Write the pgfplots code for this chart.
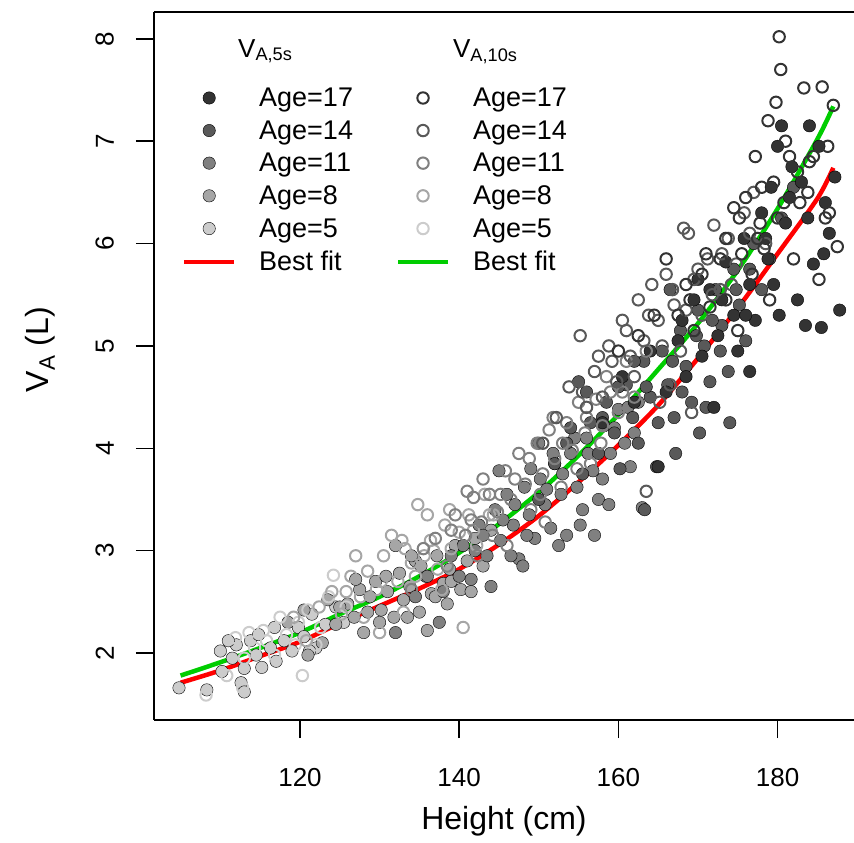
\documentclass[border=0pt]{standalone}
\usepackage{pgfplots}
\pgfplotsset{compat=1.18}
\usepackage{fontspec}
\setmainfont{Liberation Sans}
\definecolor{g17}{gray}{0.2}
\definecolor{g14}{gray}{0.35}
\definecolor{g11}{gray}{0.5}
\definecolor{g8}{gray}{0.65}
\definecolor{g5}{gray}{0.8}
\definecolor{fitgreen}{RGB}{0,205,0}
\pgfplotsset{
  fil/.style={only marks, mark=*, mark size=6.2pt, mark options={draw=none, fill=#1}},
  opn/.style={only marks, mark=o, mark size=5.7pt, mark options={draw=#1, line width=2pt}},
}
\begin{document}
\begin{tikzpicture}
\begin{axis}[
  scale only axis, width=700pt, height=708pt,
  xmin=101.66, xmax=189.6, ymin=1.346, ymax=8.262,
  axis lines*=left,
  axis line style={line width=1.5pt, black},
  tick style={line width=1.5pt, black},
  tick align=outside, major tick length=18pt,
  xtick={120,140,160,180}, ytick={2,3,4,5,6,7,8},
  /pgf/number format/assume math mode=true,
  tick label style={font=\fontsize{26}{30}\selectfont, inner sep=0pt},
  xticklabel style={anchor=north},
  xticklabel shift=30pt,
  yticklabel style={rotate=90, anchor=south},
  yticklabel shift=22pt,
  xlabel={Height (cm)},
  xlabel style={font=\fontsize{32}{36}\selectfont, at={(axis description cs:0.5,-0.122)}, anchor=north, inner sep=0pt},
  ylabel={V\textsubscript{A} (L)},
  ylabel style={font=\fontsize{32}{36}\selectfont, at={(axis description cs:-0.163,0.523)}, anchor=center, inner sep=0pt},
  legend columns=2,
  legend image code/.code={\draw[mark repeat=2,mark phase=2,#1] plot coordinates {(0pt,0pt) (25pt,0pt) (50pt,0pt)};},
  legend style={draw=none, fill=none, inner sep=0pt, at={(0.04,0.893)}, anchor=north west,
    font=\fontsize{27}{31}\selectfont, row sep=12.5pt,
    nodes={inner sep=0pt},
    /tikz/every odd column/.append style={column sep=23pt},
    /tikz/every even column/.append style={column sep=43pt}},
  legend cell align=left,
]
\coordinate (bl) at (rel axis cs:0,0);
\draw[line width=1.5pt] (rel axis cs:0,1) -- (rel axis cs:1,1);

% legend entries
\addlegendimage{fil=g17}\addlegendentry{Age=17}
\addlegendimage{opn=g17}\addlegendentry{Age=17}
\addlegendimage{fil=g14}\addlegendentry{Age=14}
\addlegendimage{opn=g14}\addlegendentry{Age=14}
\addlegendimage{fil=g11}\addlegendentry{Age=11}
\addlegendimage{opn=g11}\addlegendentry{Age=11}
\addlegendimage{fil=g8}\addlegendentry{Age=8}
\addlegendimage{opn=g8}\addlegendentry{Age=8}
\addlegendimage{fil=g5}\addlegendentry{Age=5}
\addlegendimage{opn=g5}\addlegendentry{Age=5}
\addlegendimage{red, line width=4pt}\addlegendentry{Best fit}
\addlegendimage{fitgreen, line width=4pt}\addlegendentry{Best fit}

% V_A,5s (filled)
\addplot[fil=g5, forget plot] table {
104.8 1.66
108.3 1.64
110.2 1.82
111.5 1.95
112.0 2.08
112.6 1.71
113.0 1.62
113.8 2.12
114.5 1.98
115.2 1.86
116.3 2.05
117.0 1.92
118.0 2.12
119.0 2.02
119.8 2.25
120.5 2.16
121.5 2.38
122.0 2.05
123.2 2.28
124.5 2.45
125.5 2.30
111.0 2.12
114.8 2.18
110.0 2.02
113.0 1.85
116.8 2.25
121.2 2.02
};
\addplot[fil=g8, forget plot] table {
118.5 2.30
120.5 2.42
121.0 1.98
122.8 2.10
123.5 2.52
124.5 2.28
126.0 2.48
126.8 2.35
127.5 2.62
128.0 2.20
128.8 2.55
129.5 2.70
130.2 2.42
131.0 2.60
131.8 2.35
132.5 2.78
133.0 2.52
133.8 2.65
134.5 2.90
135.0 2.40
135.8 2.75
136.5 2.58
137.2 2.95
138.0 2.68
138.8 2.82
139.5 3.05
140.2 2.62
141.0 2.90
142.0 3.12
143.0 2.85
144.0 3.20
127.0 2.72
132.0 3.05
136.0 2.22
138.5 2.48
125.0 2.45
128.5 2.40
130.8 2.75
133.5 2.35
135.2 2.85
137.0 2.55
139.0 2.70
141.5 2.60
130.0 2.30
134.0 2.95
};
\addplot[fil=g11, forget plot] table {
132.0 2.20
134.5 2.55
136.0 2.75
137.5 2.30
139.0 2.95
140.5 3.05
141.5 2.72
142.5 3.25
143.5 2.95
144.5 3.40
145.2 3.10
146.0 3.55
146.8 3.25
147.5 2.92
148.2 3.62
148.8 3.35
149.5 3.12
150.2 3.70
150.8 3.45
151.5 3.22
152.0 3.85
152.8 3.55
153.5 3.15
154.0 3.95
154.8 3.62
155.5 3.40
156.0 4.10
156.8 3.78
157.5 3.50
158.2 4.22
159.0 3.95
160.0 4.38
160.8 4.05
161.5 3.82
162.5 4.45
163.0 3.42
145.0 3.78
150.0 4.05
152.5 3.05
157.0 3.15
148.0 2.85
144.0 2.65
138.0 2.60
140.0 2.75
142.0 3.00
143.0 3.15
145.5 3.30
147.0 3.45
148.5 3.15
149.0 3.80
151.0 3.60
153.0 3.75
154.5 4.10
156.2 3.95
158.0 3.70
159.5 4.20
161.2 4.40
162.0 4.15
146.5 2.95
151.8 3.95
155.2 3.25
158.8 3.45
};
\addplot[fil=g14, forget plot] table {
150.0 3.50
152.0 3.85
153.5 4.05
155.0 4.65
155.5 3.75
156.5 4.25
157.5 3.95
158.5 4.45
159.5 4.15
160.2 3.80
161.0 4.62
161.8 4.30
162.5 4.05
163.2 4.85
164.0 4.50
164.8 3.82
165.5 4.95
166.2 4.62
167.0 4.30
167.8 5.15
168.5 4.80
169.2 4.45
170.0 5.35
170.8 5.00
171.5 4.65
172.2 5.55
173.0 5.20
173.8 4.75
174.5 5.75
175.2 5.40
176.0 5.05
177.0 6.00
178.0 5.55
179.0 5.85
180.5 6.25
182.0 6.55
163.3 3.40
166.5 5.55
171.0 4.40
174.0 4.25
154.0 4.20
156.0 4.55
158.0 4.30
160.0 4.60
162.0 4.85
163.5 4.60
165.0 4.25
166.8 4.85
168.0 4.55
169.8 5.10
171.8 5.25
172.8 4.95
174.8 5.55
176.5 5.75
167.2 3.95
170.2 4.15
};
\addplot[fil=g17, forget plot] table {
158.0 4.25
160.5 4.70
162.0 4.45
164.0 4.95
165.0 3.82
166.0 4.55
167.5 5.05
168.5 4.70
169.5 5.45
170.5 4.90
171.5 5.55
172.5 5.10
173.5 5.82
174.5 5.30
175.0 4.95
175.8 6.05
176.5 5.60
177.2 5.25
178.0 6.30
178.8 5.85
179.2 6.55
180.0 6.95
180.5 7.15
180.2 5.30
181.0 6.20
181.8 6.75
182.5 5.45
183.0 6.60
183.5 5.20
184.0 7.15
184.5 5.80
185.2 6.95
185.5 5.18
186.0 6.40
186.5 6.10
187.2 6.65
187.8 5.35
176.5 4.75
172.0 4.40
168.0 5.25
170.0 5.65
173.0 5.45
176.0 5.30
178.5 6.05
181.5 6.45
179.5 5.60
183.8 6.25
185.8 5.90
};

% V_A,10s (open)
\addplot[opn=g5, forget plot] table {
108.2 1.59
110.8 1.78
111.9 2.15
112.8 1.66
113.6 2.20
114.3 2.05
115.4 2.22
116.8 1.98
118.3 2.18
119.4 2.08
120.3 1.78
121.0 2.42
122.6 2.25
123.6 2.55
124.2 2.76
125.8 2.45
117.5 2.35
113.0 1.95
115.8 2.12
119.8 2.30
122.0 2.08
};
\addplot[opn=g8, forget plot] table {
119.2 2.35
120.8 2.12
122.4 2.45
124.0 2.60
125.2 2.38
126.4 2.75
127.6 2.55
128.5 2.80
129.6 2.62
130.5 2.95
131.5 3.15
132.3 2.70
133.2 3.02
134.0 2.88
134.8 3.45
135.6 2.95
136.4 3.10
137.3 2.82
138.2 3.25
139.0 3.02
140.0 3.18
141.2 3.35
142.2 3.05
143.2 3.55
144.3 3.35
133.0 2.40
136.0 3.35
137.8 2.62
140.5 2.25
130.0 2.20
125.8 2.60
127.0 2.95
128.0 2.35
130.2 2.70
132.8 3.10
134.5 2.75
136.8 3.00
138.8 3.40
141.8 3.20
143.8 3.35
};
\addplot[opn=g11, forget plot] table {
134.0 2.62
135.5 3.02
137.0 3.12
138.5 2.85
139.5 3.35
140.8 3.15
141.8 3.52
142.8 3.28
143.8 3.55
144.8 3.38
145.8 3.78
146.5 3.50
147.5 3.95
148.3 3.65
149.0 3.40
149.8 4.05
150.5 3.75
151.3 4.18
152.0 3.90
152.8 3.62
153.5 4.25
154.2 3.98
155.0 4.45
155.8 4.15
156.5 3.85
157.2 4.48
158.0 4.22
159.0 4.55
160.0 4.35
161.0 4.85
162.0 4.50
163.5 4.95
146.0 3.05
150.8 3.28
141.0 3.58
139.0 3.20
141.5 3.30
143.0 3.70
144.2 3.15
145.2 3.55
147.0 3.70
148.8 3.90
150.2 3.55
151.8 4.30
153.0 4.05
154.8 3.80
156.0 4.30
157.8 4.05
158.5 4.70
160.5 4.55
142.3 2.95
};
\addplot[opn=g14, forget plot] table {
150.5 4.05
152.2 4.30
153.8 4.60
155.2 5.10
156.0 4.40
157.0 4.75
158.0 4.50
158.8 5.00
159.8 4.65
160.5 5.25
161.5 4.90
162.5 5.45
163.2 5.05
163.5 3.58
164.2 5.60
165.0 5.25
166.0 5.70
167.0 5.40
167.8 4.95
168.2 6.15
168.8 6.10
169.5 5.65
170.5 5.30
171.2 5.85
172.0 6.18
172.8 5.55
173.8 6.05
174.8 5.80
175.8 6.30
177.0 6.50
178.5 6.00
166.5 4.62
169.2 4.35
155.5 4.55
157.5 4.90
159.2 4.85
161.0 5.15
162.0 4.70
163.8 5.30
165.5 5.00
166.8 5.55
168.5 5.35
170.0 5.75
171.8 5.50
173.0 5.90
174.2 5.60
176.5 6.10
165.2 4.45
};
\addplot[opn=g17, forget plot] table {
160.0 4.95
162.5 5.10
164.5 5.30
166.0 5.85
167.5 5.30
168.5 5.60
169.5 5.15
170.5 5.70
171.5 5.38
172.8 5.85
173.5 5.45
174.5 6.35
175.5 5.90
176.0 6.45
176.8 5.70
177.2 6.85
177.8 6.20
178.3 5.95
178.8 7.20
179.5 6.60
179.8 7.38
180.2 8.02
180.4 7.70
180.8 6.40
181.5 6.85
182.0 5.85
182.5 6.70
183.3 7.52
183.8 6.50
184.5 6.85
185.2 5.65
185.6 7.53
186.0 6.25
186.3 6.95
187.0 7.35
187.5 5.97
175.0 5.15
179.0 5.45
169.0 5.45
171.0 5.90
173.5 6.05
175.2 6.25
177.5 6.05
178.0 6.55
180.0 6.25
181.0 7.00
182.8 6.40
184.0 6.80
186.5 6.30
};

% best fits
\addplot[red, line width=4.5pt, smooth, forget plot] coordinates {
(105,1.71) (110,1.83) (115,1.97) (120,2.11) (125,2.29) (130,2.46) (135,2.63) (140,2.82) (145,3.06) (150,3.34) (155,3.67) (160,4.03) (165,4.42) (170,4.88) (175,5.37) (180,5.90) (185,6.44) (187,6.74)
};
\addplot[fitgreen, line width=4.5pt, smooth, forget plot] coordinates {
(105,1.78) (110,1.91) (115,2.05) (120,2.20) (125,2.38) (130,2.55) (135,2.75) (140,2.98) (145,3.26) (150,3.57) (155,3.93) (160,4.33) (165,4.77) (170,5.22) (175,5.74) (180,6.34) (185,7.02) (187,7.34)
};

\node[anchor=base west, inner sep=0pt, font=\fontsize{26}{30}\selectfont] at (rel axis cs:0.12,0.9364) {V\textsubscript{A,5s}};
\node[anchor=base west, inner sep=0pt, font=\fontsize{26}{30}\selectfont] at (rel axis cs:0.427,0.9364) {V\textsubscript{A,10s}};
\end{axis}
\pgfresetboundingbox
\path (bl) ++(-154pt,-123pt) rectangle ++(854pt,843pt);
\end{tikzpicture}
\end{document}
